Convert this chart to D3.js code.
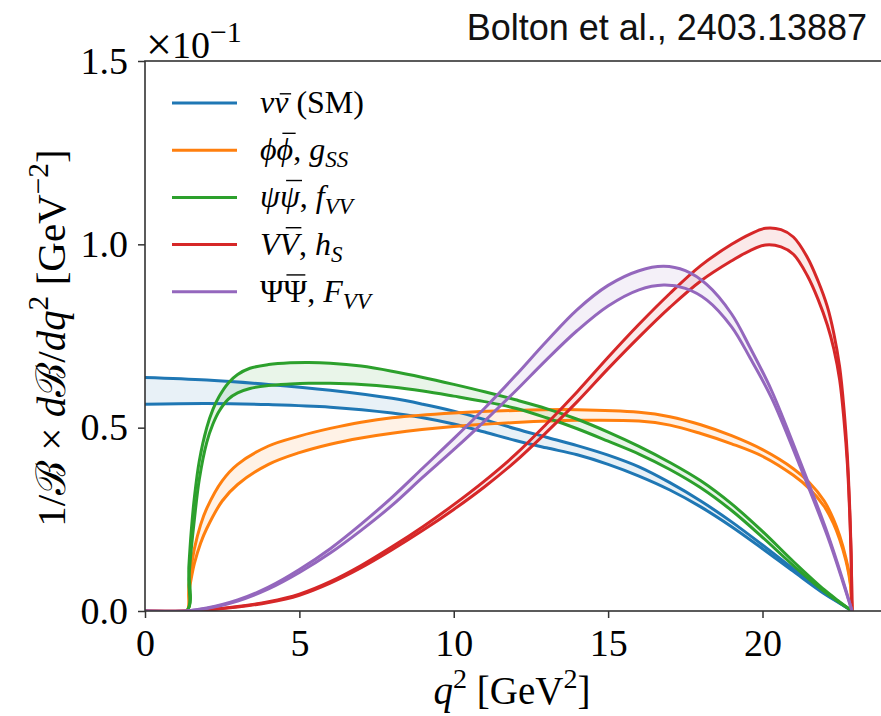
<!DOCTYPE html>
<html>
<head>
<meta charset="utf-8">
<script src="https://cdn.jsdelivr.net/npm/d3@7"></script>
<style>
  body { margin: 0; background: #fff; }
  svg { display: block; }
  .tick text { font-family: "Liberation Serif", "DejaVu Serif", serif; font-size: 38px; fill: #000; }
  .tick line { stroke: #333; stroke-width: 1.5px; }
  .math { font-family: "Liberation Serif", "DejaVu Serif", serif; fill: #000; }
</style>
</head>
<body>
<div id="chart"></div>
<script>
// -----------------------------------------//
//        Data
// -----------------------------------------//

// nu nubar (SM)
var smQ2    = [0, 2, 4, 6, 8, 9, 10, 11, 12, 13, 14, 15, 16, 17, 18, 19, 20, 21, 22, 22.5, 22.9];
var smUpper = [0.637, 0.630, 0.618, 0.602, 0.580, 0.564, 0.545, 0.522, 0.497, 0.474, 0.451, 0.425, 0.393, 0.350, 0.300, 0.243, 0.180, 0.115, 0.050, 0.022, 0];
var smLower = [0.564, 0.566, 0.563, 0.556, 0.540, 0.527, 0.510, 0.488, 0.465, 0.445, 0.426, 0.400, 0.368, 0.330, 0.284, 0.230, 0.170, 0.108, 0.047, 0.021, 0];

// phi phibar, g_SS
var phiQ2    = [0, 1.35, 1.42, 1.5, 1.6, 1.8, 2.0, 2.5, 3.0, 4.0, 5.0, 6.0, 7.0, 8.0, 10.0, 12.0, 14.0, 16.0, 17.0, 18.0, 19.0, 20.0, 21.0, 21.5, 22.0, 22.3, 22.5, 22.7, 22.8, 22.85, 22.9];
var phiUpper = [0, 0, 0.07, 0.12, 0.17, 0.235, 0.28, 0.355, 0.40, 0.450, 0.477, 0.498, 0.515, 0.527, 0.540, 0.547, 0.549, 0.542, 0.530, 0.508, 0.478, 0.440, 0.388, 0.352, 0.300, 0.250, 0.205, 0.145, 0.105, 0.075, 0];
var phiLower = [0, 0, 0.05, 0.09, 0.13, 0.185, 0.225, 0.30, 0.345, 0.400, 0.432, 0.455, 0.472, 0.485, 0.503, 0.514, 0.520, 0.518, 0.507, 0.484, 0.456, 0.422, 0.370, 0.335, 0.285, 0.238, 0.195, 0.138, 0.098, 0.070, 0];

// psi psibar, f_VV
var psiQ2    = [0, 1.35, 1.42, 1.5, 1.6, 1.76, 2.0, 2.2, 2.4, 2.7, 3.0, 3.4, 4.0, 4.7, 5.3, 6.0, 7.0, 8.0, 9.0, 10.0, 11.0, 12.0, 13.0, 14.0, 15.0, 16.0, 17.0, 18.0, 19.0, 20.0, 21.0, 22.0, 22.5, 22.9];
var psiUpper = [0, 0, 0.12, 0.22, 0.31, 0.41, 0.50, 0.55, 0.585, 0.622, 0.645, 0.662, 0.672, 0.677, 0.678, 0.676, 0.668, 0.654, 0.637, 0.618, 0.598, 0.576, 0.552, 0.523, 0.488, 0.449, 0.405, 0.355, 0.292, 0.217, 0.135, 0.058, 0.025, 0];
var psiLower = [0, 0, 0.09, 0.17, 0.25, 0.36, 0.46, 0.51, 0.545, 0.578, 0.595, 0.607, 0.615, 0.619, 0.621, 0.621, 0.618, 0.611, 0.600, 0.586, 0.571, 0.553, 0.527, 0.497, 0.463, 0.428, 0.386, 0.336, 0.274, 0.201, 0.124, 0.053, 0.023, 0];

// V Vbar, h_S
var vQ2    = [0, 1.35, 2, 3, 4, 5, 6, 7, 8, 9, 10, 11, 12, 13, 14, 15, 16, 17, 18, 19, 19.6, 20.1, 20.6, 21.0, 21.45, 21.8, 22.1, 22.31, 22.5, 22.64, 22.75, 22.82, 22.87, 22.9];
var vUpper = [0, 0, 0.003, 0.012, 0.025, 0.046, 0.08, 0.124, 0.175, 0.23, 0.29, 0.355, 0.427, 0.510, 0.598, 0.692, 0.782, 0.866, 0.942, 1.000, 1.028, 1.044, 1.04, 1.02, 0.965, 0.90, 0.83, 0.757, 0.665, 0.55, 0.42, 0.29, 0.16, 0];
var vLower = [0, 0, 0.003, 0.011, 0.023, 0.043, 0.076, 0.118, 0.167, 0.22, 0.277, 0.339, 0.408, 0.487, 0.571, 0.661, 0.747, 0.828, 0.900, 0.955, 0.983, 0.998, 0.993, 0.973, 0.915, 0.85, 0.78, 0.715, 0.63, 0.52, 0.40, 0.275, 0.15, 0];

// Psi Psibar, F_VV
var bigPsiQ2    = [0, 1.35, 2, 3, 4, 5, 6, 7, 8, 9, 10, 11, 12, 13, 14, 15, 16, 16.8, 17.5, 18.2, 19, 19.6, 20.3, 21.2, 22.1, 22.6, 22.9];
var bigPsiUpper = [0, 0, 0.008, 0.03, 0.065, 0.113, 0.17, 0.237, 0.31, 0.39, 0.47, 0.553, 0.642, 0.735, 0.822, 0.888, 0.928, 0.94, 0.928, 0.89, 0.81, 0.718, 0.6, 0.412, 0.213, 0.085, 0];
var bigPsiLower = [0, 0, 0.007, 0.027, 0.06, 0.105, 0.158, 0.22, 0.288, 0.365, 0.44, 0.518, 0.60, 0.685, 0.765, 0.832, 0.876, 0.889, 0.88, 0.848, 0.775, 0.69, 0.58, 0.398, 0.205, 0.08, 0];

var xTicks = [0, 5, 10, 15, 20];
var yTicks = [0, 0.5, 1.0, 1.5];

var seriesColors = ["#1f77b4", "#ff7f0e", "#2ca02c", "#d62728", "#9467bd"];

// legend labels, split in pieces: i = italic, sub / sup = sub- or superscript, bar = over-bar height (em)
var legendLabels = [
  [{t: "\u03BD", i: true}, {t: "\u03BD", i: true, bar: 0.6}, {t: " (SM)"}],
  [{t: "\u03D5", i: true}, {t: "\u03D5", i: true, bar: 0.84}, {t: ", "}, {t: "g", i: true}, {t: "SS", i: true, sub: true}],
  [{t: "\u03C8", i: true}, {t: "\u03C8", i: true, bar: 0.84}, {t: ", "}, {t: "f", i: true}, {t: "VV", i: true, sub: true}],
  [{t: "V", i: true}, {t: "V", i: true, bar: 0.84}, {t: ", "}, {t: "h", i: true}, {t: "S", i: true, sub: true}],
  [{t: "\u03A8"}, {t: "\u03A8", bar: 0.84}, {t: ", "}, {t: "F", i: true}, {t: "VV", i: true, sub: true}]
];

var series = [
  {q2: smQ2, upper: smUpper, lower: smLower},
  {q2: phiQ2, upper: phiUpper, lower: phiLower},
  {q2: psiQ2, upper: psiUpper, lower: psiLower},
  {q2: vQ2, upper: vUpper, lower: vLower},
  {q2: bigPsiQ2, upper: bigPsiUpper, lower: bigPsiLower}
];

// -----------------------------------------//
//           SVG Area Sizing
// -----------------------------------------//

var svgWidth = 881;
var svgHeight = 716;

var margin = {top: 61, left: 145};
var width = 741;   // right edge runs off the picture
var height = 550;

var svg = d3.select("#chart")
  .append("svg")
  .attr("width", svgWidth)
  .attr("height", svgHeight);

var chartGroup = svg.append("g")
  .attr("transform", `translate(${margin.left}, ${margin.top})`);

var xScale = d3.scaleLinear().domain([0, 24]).range([0, width]);
var yScale = d3.scaleLinear().domain([0, 1.5]).range([height, 0]);

svg.append("defs").append("clipPath")
  .attr("id", "plot-clip")
  .append("rect")
  .attr("width", width)
  .attr("height", height);

// writes a piece-wise math label into a text element (bars drawn as short lines)
function mathText(textSel, parts, size, baseY, barGroup, supScale) {
  var shift = 0;
  var charIndex = 0;
  var bars = [];
  supScale = supScale || 0.72;
  parts.forEach(function(p) {
    var span = textSel.append("tspan").text(p.t);
    var target = 0;
    if (p.sub) target = 0.22 * size;
    if (p.sup) target = -0.42 * size;
    if (target !== shift) span.attr("dy", target - shift);
    shift = target;
    if (p.i) span.style("font-style", "italic");
    if (p.sub || p.sup) span.style("font-size", (supScale * size) + "px");
    if (p.bar) bars.push({index: charIndex, h: p.bar, italic: p.i});
    charIndex += p.t.length;
  });
  bars.forEach(function(b) {
    var ext = textSel.node().getExtentOfChar(b.index);
    var slant = b.italic ? 0.12 * size : 0;
    barGroup.append("line")
      .attr("x1", ext.x + 0.12 * ext.width + slant)
      .attr("x2", ext.x + 0.92 * ext.width + slant)
      .attr("y1", baseY - b.h * size)
      .attr("y2", baseY - b.h * size)
      .attr("stroke", "#000")
      .attr("stroke-width", 1.4);
  });
}

// -----------------------------------------//
//              Bands and lines
// -----------------------------------------//

var plotArea = chartGroup.append("g").attr("clip-path", "url(#plot-clip)");
var curve = d3.curveCatmullRom.alpha(0.5);

series.forEach(function(s, k) {
  var pts = s.q2.map(function(q, j) { return {q: q, hi: s.upper[j], lo: s.lower[j]}; });

  var area = d3.area()
    .curve(curve)
    .x(d => xScale(d.q))
    .y0(d => yScale(d.lo))
    .y1(d => yScale(d.hi));

  plotArea.append("path")
    .datum(pts)
    .attr("d", area)
    .attr("fill", seriesColors[k])
    .attr("fill-opacity", 0.1)
    .attr("stroke", "none");
});

series.forEach(function(s, k) {
  var pts = s.q2.map(function(q, j) { return {q: q, hi: s.upper[j], lo: s.lower[j]}; });
  ["hi", "lo"].forEach(function(key) {
    var line = d3.line()
      .curve(curve)
      .x(d => xScale(d.q))
      .y(d => yScale(d[key]));
    plotArea.append("path")
      .datum(pts)
      .attr("d", line)
      .attr("fill", "none")
      .attr("stroke", seriesColors[k])
      .attr("stroke-width", 3)
      .attr("stroke-linejoin", "round");
  });
});

// -----------------------------------------//
//                 Axes
// -----------------------------------------//

var bottomAxis = d3.axisBottom(xScale)
  .tickValues(xTicks)
  .tickFormat(d3.format("d"))
  .tickSizeInner(7)
  .tickSizeOuter(0)
  .tickPadding(11);

var leftAxis = d3.axisLeft(yScale)
  .tickValues(yTicks)
  .tickFormat(d3.format(".1f"))
  .tickSizeInner(7)
  .tickSizeOuter(0)
  .tickPadding(10);

chartGroup.append("g")
  .attr("transform", `translate(0, ${height})`)
  .call(bottomAxis)
  .call(g => g.select(".domain").remove());

chartGroup.append("g")
  .call(leftAxis)
  .call(g => g.select(".domain").remove());

// frame
chartGroup.append("rect")
  .attr("width", width)
  .attr("height", height)
  .attr("fill", "none")
  .attr("stroke", "#333")
  .attr("stroke-width", 1.6);

var textGroup = svg.append("g");

// offset text above the y axis
var offsetText = textGroup.append("text")
  .attr("class", "math")
  .attr("x", 146)
  .attr("y", 58)
  .style("font-size", "38px");
offsetText.append("tspan").style("font-size", "46px").attr("dy", 2).text("\u00D7");
offsetText.append("tspan").attr("dy", -2).text("10");
offsetText.append("tspan").attr("dy", -16).style("font-size", "30px").text("\u22121");

// x label
var xLabel = textGroup.append("text")
  .attr("class", "math")
  .attr("x", 512)
  .attr("y", 704)
  .attr("text-anchor", "middle")
  .style("font-size", "39px");
mathText(xLabel, [{t: "q", i: true}, {t: "2", sup: true}, {t: " [GeV"}, {t: "2", sup: true}, {t: "]"}], 39, 704, textGroup);

// y label
var yLabel = textGroup.append("text")
  .attr("class", "math")
  .attr("transform", "translate(65, 338) rotate(-90)")
  .attr("text-anchor", "middle")
  .style("font-size", "41px");
mathText(yLabel, [
  {t: "1/\u212C \u00D7 "}, {t: "d", i: true}, {t: "\u212C"}, {t: "/"}, {t: "dq", i: true},
  {t: "2", sup: true}, {t: " [GeV"}, {t: "\u22122", sup: true}, {t: "]"}
], 41, 0, textGroup);

// citation
textGroup.append("text")
  .attr("x", 867)
  .attr("y", 40)
  .attr("text-anchor", "end")
  .style("font-family", "'Liberation Sans', Arial, sans-serif")
  .style("font-size", "36px")
  .style("fill", "#111")
  .text("Bolton et al., 2403.13887");

// -----------------------------------------//
//                 Legend
// -----------------------------------------//

var legendGroup = svg.append("g");

legendLabels.forEach(function(parts, k) {
  var rowY = 103 + k * 47.2;
  legendGroup.append("line")
    .attr("x1", 172).attr("x2", 237)
    .attr("y1", rowY).attr("y2", rowY)
    .attr("stroke", seriesColors[k])
    .attr("stroke-width", 3);
  var label = legendGroup.append("text")
    .attr("class", "math")
    .attr("x", 260)
    .attr("y", rowY + 10)
    .style("font-size", "32px");
  mathText(label, parts, 32, rowY + 10, legendGroup);
});
</script>
</body>
</html>
